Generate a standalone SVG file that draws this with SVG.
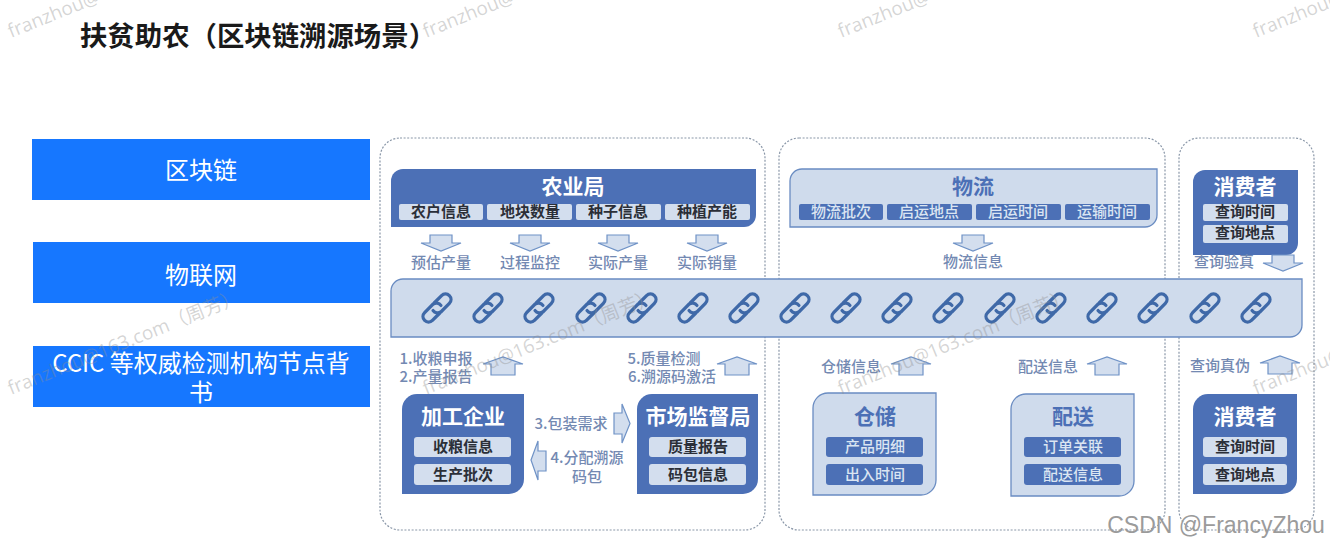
<svg xmlns="http://www.w3.org/2000/svg" xmlns:xlink="http://www.w3.org/1999/xlink" width="1330" height="546" viewBox="0 0 1330 546">
<style>
text{font-family:"Noto Sans CJK SC","Noto Sans",sans-serif;text-anchor:middle}
.panel{fill:none;stroke:#8a97a8;stroke-width:1.2;stroke-dasharray:2 1.6}
.side{fill:#1677ff}
.sideT{fill:#fff;font-size:24px}
.dark{fill:#4c70b6}
.light{fill:#cfdbec;stroke:#6a8cc2;stroke-width:1.3}
.pillL{fill:#d3deee}
.pillD{fill:#4c70b6}
.tW{fill:#fff;font-size:21px;font-weight:700}
.tB{fill:#4c70b6;font-size:21px;font-weight:700}
.pK{fill:#2b2f38;font-size:15px;font-weight:700}
.pW{fill:#dbe5f2;font-size:15px;font-weight:500}
.lab{fill:#7389b2;font-size:15px;font-weight:500}
.arrow{fill:#d3deee;stroke:#6f92c6;stroke-width:1.2}
.link{fill:none;stroke:#3f69a8;stroke-width:3.6;stroke-linecap:round}
.wm{fill:#8f8f8f;fill-opacity:.38;font-size:19px;text-anchor:start;font-family:"Open Sans","Noto Sans CJK SC",sans-serif}
</style>
<defs>
<path id="ad" d="M-11 0H11V8H20L0 16L-20 8H-11Z"/>
<path id="au" d="M-12 18H12V7H20L0 0L-20 7H-12Z"/>
<path id="ar" d="M0 9H8V0L16 19.500L8 39V30H0Z"/>
<path id="al" d="M15 10H7V0L0 19L7 39V30H15Z"/>
<g id="lk" transform="rotate(-45) scale(.92)"><path d="M-2 6H-13A6 6 0 0 1-13-6H0A6 6 0 0 1 5 1"/><path d="M2-6H13A6 6 0 0 1 13 6H0A6 6 0 0 1-5-1"/></g>
</defs>
<rect width="1330" height="546" fill="#fff"/>
<text x="258" y="46" fill="#1a1a1a" style="font-size:27.400px;font-weight:700">扶贫助农（区块链溯源场景）</text>

<g id="side-blockchain"><rect class="side" x="32" y="139" width="338" height="61"/><text class="sideT" x="201" y="179">区块链</text></g>
<g id="side-iot"><rect class="side" x="33" y="242" width="337" height="61"/><text class="sideT" x="201" y="284">物联网</text></g>
<g id="side-ccic"><rect class="side" x="33" y="346" width="337" height="61"/><text class="sideT" x="201" y="372">CCIC 等权威检测机构节点背</text><text class="sideT" x="201" y="401">书</text></g>

<g id="panels">
<rect class="panel" x="380" y="138" width="385" height="392" rx="20"/>
<rect class="panel" x="779" y="138" width="386" height="392" rx="20"/>
<rect class="panel" x="1179" y="138" width="135" height="392" rx="20"/>
</g>

<g id="agri">
<path class="dark" d="M403 169H756V215A12 12 0 0 1 744 227H391V181A12 12 0 0 1 403 169Z"/>
<text class="tW" x="573" y="194">农业局</text>
<rect class="pillL" x="399" y="204" width="84" height="16" rx="2"/><text class="pK" x="441" y="217">农户信息</text>
<rect class="pillL" x="487" y="204" width="85" height="16" rx="2"/><text class="pK" x="530" y="217">地块数量</text>
<rect class="pillL" x="576" y="204" width="85" height="16" rx="2"/><text class="pK" x="618" y="217">种子信息</text>
<rect class="pillL" x="665" y="204" width="85" height="16" rx="2"/><text class="pK" x="707" y="217">种植产能</text>
</g>
<g id="logistics">
<path class="light" d="M802 169H1157V215A12 12 0 0 1 1145 227H790V181A12 12 0 0 1 802 169Z"/>
<text class="tB" x="973" y="194">物流</text>
<rect class="pillD" x="799" y="204" width="84" height="16" rx="2"/><text class="pW" x="841" y="217">物流批次</text>
<rect class="pillD" x="887" y="204" width="85" height="16" rx="2"/><text class="pW" x="929" y="217">启运地点</text>
<rect class="pillD" x="976" y="204" width="85" height="16" rx="2"/><text class="pW" x="1018" y="217">启运时间</text>
<rect class="pillD" x="1065" y="204" width="85" height="16" rx="2"/><text class="pW" x="1107" y="217">运输时间</text>
</g>
<g id="consumer-top">
<path class="dark" d="M1205 170H1298V243A12 12 0 0 1 1286 255H1193V182A12 12 0 0 1 1205 170Z"/>
<text class="tW" x="1245" y="194">消费者</text>
<rect class="pillL" x="1203" y="204" width="85" height="17" rx="2"/><text class="pK" x="1245" y="217">查询时间</text>
<rect class="pillL" x="1203" y="225" width="85" height="18" rx="2"/><text class="pK" x="1245" y="238">查询地点</text>
</g>

<g id="chain">
<path class="light" d="M403 279H1302V325A12 12 0 0 1 1290 337H391V291A12 12 0 0 1 403 279Z"/>
<g class="link">
<use href="#lk" x="437" y="308"/><use href="#lk" x="488" y="308"/><use href="#lk" x="539" y="308"/><use href="#lk" x="591" y="308"/><use href="#lk" x="642" y="308"/><use href="#lk" x="693" y="308"/><use href="#lk" x="744" y="308"/><use href="#lk" x="795" y="308"/><use href="#lk" x="846" y="308"/><use href="#lk" x="897" y="308"/><use href="#lk" x="948" y="308"/><use href="#lk" x="1000" y="308"/><use href="#lk" x="1051" y="308"/><use href="#lk" x="1102" y="308"/><use href="#lk" x="1153" y="308"/><use href="#lk" x="1205" y="308"/><use href="#lk" x="1256" y="308"/>
</g>
</g>

<g id="processor">
<path class="dark" d="M417 394H524V479A15 15 0 0 1 509 494H402V409A15 15 0 0 1 417 394Z"/>
<text class="tW" x="463" y="424">加工企业</text>
<rect class="pillL" x="414" y="437" width="97" height="20" rx="3"/><text class="pK" x="463" y="452">收粮信息</text>
<rect class="pillL" x="414" y="464" width="97" height="21" rx="3"/><text class="pK" x="463" y="480">生产批次</text>
</g>
<g id="market">
<path class="dark" d="M652 394H758V479A15 15 0 0 1 743 494H637V409A15 15 0 0 1 652 394Z"/>
<text class="tW" x="698" y="424">市场监督局</text>
<rect class="pillL" x="649" y="437" width="97" height="20" rx="3"/><text class="pK" x="698" y="452">质量报告</text>
<rect class="pillL" x="649" y="464" width="97" height="21" rx="3"/><text class="pK" x="698" y="480">码包信息</text>
</g>
<g id="warehouse">
<path class="light" d="M828 393H936V480A15 15 0 0 1 921 495H813V408A15 15 0 0 1 828 393Z"/>
<text class="tB" x="875" y="424">仓储</text>
<rect class="pillD" x="826" y="437" width="97" height="20" rx="3"/><text class="pW" x="875" y="452">产品明细</text>
<rect class="pillD" x="826" y="464" width="97" height="21" rx="3"/><text class="pW" x="875" y="480">出入时间</text>
</g>
<g id="delivery">
<path class="light" d="M1026 394H1134V481A15 15 0 0 1 1119 496H1011V409A15 15 0 0 1 1026 394Z"/>
<text class="tB" x="1073" y="424">配送</text>
<rect class="pillD" x="1024" y="437" width="97" height="20" rx="3"/><text class="pW" x="1073" y="452">订单关联</text>
<rect class="pillD" x="1024" y="464" width="97" height="21" rx="3"/><text class="pW" x="1073" y="480">配送信息</text>
</g>
<g id="consumer-bottom">
<path class="dark" d="M1208 394H1297V479A15 15 0 0 1 1282 494H1193V409A15 15 0 0 1 1208 394Z"/>
<text class="tW" x="1245" y="424">消费者</text>
<rect class="pillL" x="1203" y="437" width="84" height="20" rx="3"/><text class="pK" x="1245" y="452">查询时间</text>
<rect class="pillL" x="1203" y="464" width="84" height="21" rx="3"/><text class="pK" x="1245" y="480">查询地点</text>
</g>

<g id="connectors">
<g class="arrow">
<use href="#ad" x="441" y="235"/><use href="#ad" x="530" y="235"/><use href="#ad" x="618" y="235"/><use href="#ad" x="707" y="235"/>
<use href="#ad" x="973" y="235"/><use href="#ad" x="1283" y="255"/>
<use href="#au" x="503" y="357"/><use href="#au" x="737" y="357"/><use href="#au" x="911" y="357"/><use href="#au" x="1107" y="357"/><use href="#au" x="1280" y="356"/>
<use href="#ar" x="614" y="404"/><use href="#al" x="531" y="441"/>
</g>
<g class="labels">
<text class="lab" x="441" y="268">预估产量</text><text class="lab" x="530" y="268">过程监控</text><text class="lab" x="618" y="268">实际产量</text><text class="lab" x="707" y="268">实际销量</text>
<text class="lab" x="973" y="267">物流信息</text><text class="lab" x="1224" y="267">查询验真</text>
<text class="lab" x="436" y="364">1.收粮申报</text><text class="lab" x="436" y="382">2.产量报告</text>
<text class="lab" x="664" y="364">5.质量检测</text><text class="lab" x="672" y="382">6.溯源码激活</text>
<text class="lab" x="571" y="429">3.包装需求</text><text class="lab" x="587" y="463">4.分配溯源</text><text class="lab" x="587" y="482">码包</text>
<text class="lab" x="851" y="372">仓储信息</text><text class="lab" x="1048" y="372">配送信息</text><text class="lab" x="1220" y="371">查询真伪</text>
</g>
</g>

<g id="watermarks">
<text class="wm" transform="translate(11 38) rotate(-22)">franzhou@163.com（周芳）</text>
<text class="wm" transform="translate(426 38) rotate(-22)">franzhou@163.com（周芳）</text>
<text class="wm" transform="translate(841 38) rotate(-22)">franzhou@163.com（周芳）</text>
<text class="wm" transform="translate(1256 38) rotate(-22)">franzhou@163.com（周芳）</text>
<text class="wm" transform="translate(11 395) rotate(-22)">franzhou@163.com（周芳）</text>
<text class="wm" transform="translate(426 395) rotate(-22)">franzhou@163.com（周芳）</text>
<text class="wm" transform="translate(841 395) rotate(-22)">franzhou@163.com（周芳）</text>
<text class="wm" transform="translate(1256 395) rotate(-22)">franzhou@163.com（周芳）</text>
</g>
<text x="1216" y="533" fill="#9b9b9b" style="font-size:23px;font-family:'Liberation Sans',sans-serif">CSDN @FrancyZhou</text>
</svg>
